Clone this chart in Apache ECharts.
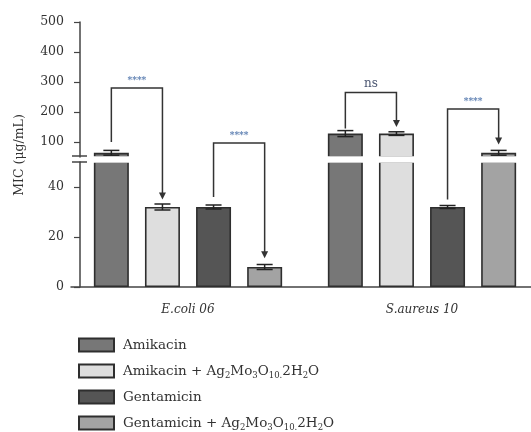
<!DOCTYPE html>
<html>
<head>
<meta charset="utf-8">
<script src="https://cdn.jsdelivr.net/npm/echarts@6/dist/echarts.min.js"></script>
<style>
html, body { margin: 0; padding: 0; background: #fff; }
#main { width: 531px; height: 432px; }
</style>
</head>
<body>
<div id="main"></div>
<script>
// data (MIC, ug/mL)
var strains = ['E.coli 06', 'S.aureus 10'];
var seriesNames = ['Amikacin', 'Amikacin + Ag2Mo3O10.2H2O', 'Gentamicin', 'Gentamicin + Ag2Mo3O10.2H2O'];
var amikacin = [64, 128];
var amikacinAg = [32, 128];
var gentamicin = [32, 32];
var gentamicinAg = [8, 64];
var amikacinErr = [8, 10];
var amikacinAgErr = [1.2, 6];
var gentamicinErr = [0.8, 0.6];
var gentamicinAgErr = [1, 8];
var upperTicks = [100, 200, 300, 400, 500];
var lowerTicks = [0, 20, 40];
var breakValue = 50;
// significance brackets: strain index, bar from/to, leg start, top, arrow tip
var brackets = [
    { cat: 0, from: 0, to: 1, start: 100, top: 280, end: 35, label: '****' },
    { cat: 0, from: 2, to: 3, start: 36, top: 97, end: 11.5, label: '****' },
    { cat: 1, from: 0, to: 1, start: 145, top: 265, end: 150, label: 'ns' },
    { cat: 1, from: 2, to: 3, start: 35, top: 210, end: 92, label: '****' }
];

var colors = ['#777777', '#dedede', '#555555', '#a3a3a3'];
var values = [amikacin, amikacinAg, gentamicin, gentamicinAg];
var errors = [amikacinErr, amikacinAgErr, gentamicinErr, gentamicinAgErr];
var barWidth = 35;
var barGap = 0.46;
var pitch = barWidth * (1 + barGap);
var serif = 'DejaVu Serif';
var ink = '#333';

var legendLabels = {};
legendLabels[seriesNames[0]] = 'Amikacin';
legendLabels[seriesNames[1]] = 'Amikacin + Ag{s|2}Mo{s|3}O{s|10.}2H{s|2}O';
legendLabels[seriesNames[2]] = 'Gentamicin';
legendLabels[seriesNames[3]] = 'Gentamicin + Ag{s|2}Mo{s|3}O{s|10.}2H{s|2}O';

var chart = echarts.init(document.getElementById('main'));

function errRender(isUpper) {
    return function (params, api) {
        var v = api.value(1), e = api.value(2), k = api.value(3);
        if (isUpper ? v < breakValue : v >= breakValue) return;
        var cat = api.value(0);
        var x = api.coord([cat, v])[0] + (k - 1.5) * pitch;
        var yHi = api.coord([cat, v + e])[1];
        var yLo = api.coord([cat, v - e])[1];
        var hw = 8;
        var st = { stroke: '#222', lineWidth: 1.5 };
        return {
            type: 'group',
            children: [
                { type: 'line', shape: { x1: x, y1: yHi, x2: x, y2: yLo }, style: st },
                { type: 'line', shape: { x1: x - hw, y1: yHi, x2: x + hw, y2: yHi }, style: st },
                { type: 'line', shape: { x1: x - hw, y1: yLo, x2: x + hw, y2: yLo }, style: st }
            ]
        };
    };
}

var errData = [];
values.forEach(function (arr, k) {
    arr.forEach(function (v, c) {
        errData.push([c, v, errors[k][c], k]);
    });
});

var series = [];
[0, 1].forEach(function (g) {
    values.forEach(function (arr, k) {
        series.push({
            name: seriesNames[k],
            type: 'bar',
            xAxisIndex: g,
            yAxisIndex: g,
            data: arr,
            barWidth: barWidth,
            barGap: (barGap * 100) + '%',
            clip: true,
            silent: true,
            itemStyle: { color: colors[k], borderColor: '#2e2e2e', borderWidth: 1.6 }
        });
    });
    series.push({
        type: 'custom',
        xAxisIndex: g,
        yAxisIndex: g,
        data: errData,
        encode: { x: 0, y: 1 },
        silent: true,
        z: 5,
        renderItem: errRender(g === 0)
    });
});

// one legend box per row so the rows never wrap into columns
var legends = seriesNames.map(function (name, i) {
    return {
        data: [name],
        orient: 'vertical',
        left: 78,
        top: 336 + i * 26,
        padding: 0,
        icon: 'rect',
        itemWidth: 35,
        itemHeight: 13,
        selectedMode: false,
        formatter: function (n) { return legendLabels[n]; },
        textStyle: {
            fontFamily: serif, fontSize: 13.5, color: ink, lineHeight: 18, padding: [0, 0, 0, 4],
            rich: { s: { fontFamily: serif, fontSize: 8.5, lineHeight: 8, color: ink, verticalAlign: 'bottom' } }
        }
    };
});

var gridBase = { left: 71, width: 468, outerBoundsMode: 'none', containLabel: false };

var option = {
    animation: false,
    grid: [
        Object.assign({ top: 22, height: 135 }, gridBase),
        Object.assign({ top: 162, height: 125 }, gridBase)
    ],
    xAxis: [
        { type: 'category', gridIndex: 0, data: strains, show: false },
        {
            type: 'category', gridIndex: 1, data: strains,
            axisLine: { lineStyle: { color: '#444', width: 1.5 } },
            axisTick: { alignWithLabel: true, length: 6, lineStyle: { color: '#444', width: 1.2 } },
            axisLabel: { fontFamily: serif, fontStyle: 'italic', fontSize: 12, color: ink, margin: 17 }
        }
    ],
    yAxis: [
        {
            type: 'value', gridIndex: 0, min: breakValue, max: 500, offset: -9,
            splitLine: { show: false },
            axisLine: { show: true, lineStyle: { color: '#444', width: 1.5 } },
            axisTick: { show: true, length: 6, customValues: upperTicks, lineStyle: { color: '#444', width: 1.2 } },
            axisLabel: { customValues: upperTicks, fontFamily: serif, fontSize: 12.5, color: ink, margin: 16 }
        },
        {
            type: 'value', gridIndex: 1, min: 0, max: breakValue, offset: -9,
            splitLine: { show: false },
            axisLine: { show: true, lineStyle: { color: '#444', width: 1.5 } },
            axisTick: { show: true, length: 6, customValues: lowerTicks, lineStyle: { color: '#444', width: 1.2 } },
            axisLabel: { customValues: lowerTicks, fontFamily: serif, fontSize: 12.5, color: ink, margin: 16 }
        }
    ],
    legend: legends,
    series: series
};
chart.setOption(option);

// annotations placed with the chart's own scales
function yPix(v) {
    return v >= breakValue ? chart.convertToPixel({ yAxisIndex: 0 }, v) : chart.convertToPixel({ yAxisIndex: 1 }, v);
}
function xPix(cat, k) {
    return chart.convertToPixel({ xAxisIndex: 1 }, cat) + (k - 1.5) * pitch;
}

var graphics = [];

// white gap of the broken axis across the bars
var yb1 = chart.convertToPixel({ yAxisIndex: 0 }, breakValue);
var yb2 = chart.convertToPixel({ yAxisIndex: 1 }, breakValue);
graphics.push({
    type: 'rect',
    z: 10,
    shape: { x: 88, y: yb1 - 0.8, width: 460, height: yb2 - yb1 + 1.6 },
    style: { fill: '#fff' }
});

var lineStyle = { stroke: '#333', lineWidth: 1.5, fill: null };
brackets.forEach(function (b) {
    var x1 = xPix(b.cat, b.from), x2 = xPix(b.cat, b.to);
    var y0 = yPix(b.start), yt = yPix(b.top), ye = yPix(b.end);
    graphics.push({
        type: 'polyline',
        z: 20,
        shape: { points: [[x1, y0], [x1, yt], [x2, yt], [x2, ye - 6]] },
        style: lineStyle
    });
    graphics.push({
        type: 'polygon',
        z: 20,
        shape: { points: [[x2 - 3.5, ye - 7], [x2 + 3.5, ye - 7], [x2, ye]] },
        style: { fill: '#333' }
    });
    var isNs = b.label === 'ns';
    graphics.push({
        type: 'text',
        z: 20,
        x: (x1 + x2) / 2,
        y: yt - 3,
        style: {
            text: b.label,
            fontFamily: serif,
            fontSize: isNs ? 12 : 9,
            fontWeight: isNs ? 'normal' : 'bold',
            fill: isNs ? '#4a5570' : '#5a7db0',
            align: 'center',
            verticalAlign: 'bottom'
        }
    });
});

// axis break marks
var axisX = 80;
[yb1 - 1, yb2].forEach(function (y) {
    graphics.push({
        type: 'line',
        z: 20,
        shape: { x1: axisX - 8, y1: y, x2: axisX + 7, y2: y },
        style: { stroke: '#444', lineWidth: 1.5 }
    });
});

// y axis title
graphics.push({
    type: 'text',
    x: 20,
    y: 155,
    rotation: Math.PI / 2,
    style: {
        text: 'MIC (\u03bcg/mL)',
        fontFamily: serif,
        fontSize: 12.5,
        fill: ink,
        align: 'center',
        verticalAlign: 'middle'
    }
});

chart.setOption({ graphic: graphics });
</script>
</body>
</html>
